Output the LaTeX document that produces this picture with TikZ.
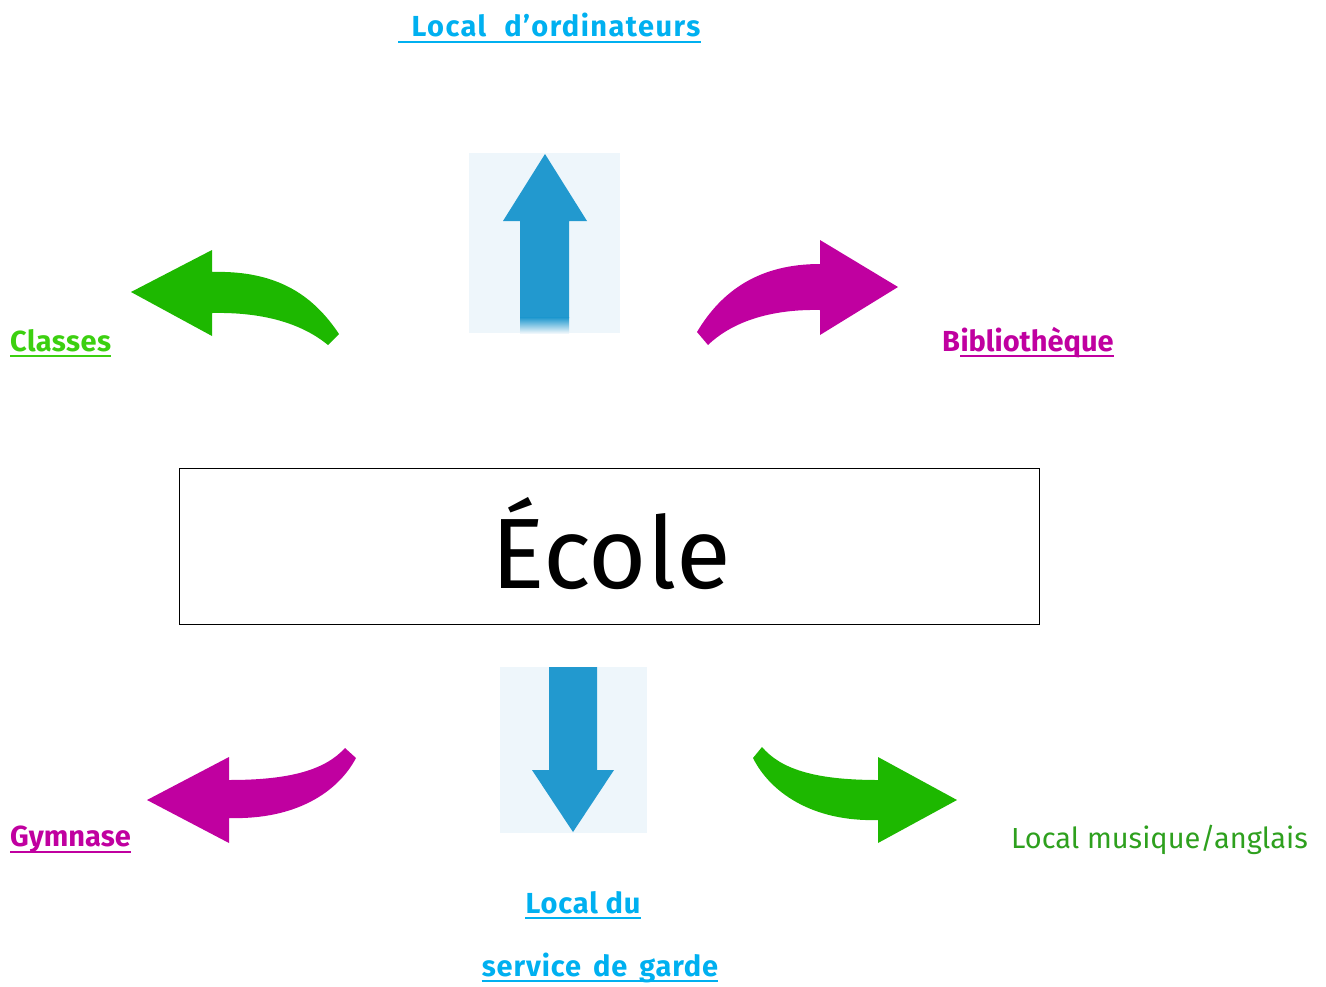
\documentclass[tikz,border=0pt]{standalone}
\usepackage{fontspec}
\setmainfont{Fira Sans}
\usetikzlibrary{calc}
\definecolor{agreen}{HTML}{1DB800}
\definecolor{tgreen}{HTML}{3CD010}
\definecolor{dgreen}{HTML}{2EA01E}
\definecolor{mag}{HTML}{C000A0}
\definecolor{ablue}{HTML}{2299CF}
\definecolor{tblue}{HTML}{00B0F0}
\definecolor{bgblue}{HTML}{EEF6FB}
\begin{document}
\begin{tikzpicture}[x=1pt,y=-1pt,
  lbl/.style={inner sep=0pt, font=\bfseries\fontsize{29}{34}\selectfont},
  uline/.style={line width=2.6pt}]
\useasboundingbox (0,0) rectangle (1326,986);
% central box
\node[draw=black, line width=0.8pt, minimum width=860pt, minimum height=156pt, inner sep=0pt] (ecole) at (609,546) {};
\node[inner sep=0pt, anchor=base, font=\fontsize{100}{110}\selectfont] (ecoletxt) at (611,588) {École};
% up arrow
\fill[bgblue] (469,153) rectangle (620,333);
\fill[ablue] (545,154) -- (587,221) -- (569,221) -- (569,318) -- (520,318) -- (520,221) -- (503,221) -- cycle;
\shade[top color=ablue, bottom color=bgblue] (520,317.5) rectangle (569,333);
% down arrow
\fill[bgblue] (500,667) rectangle (647,833);
\fill[ablue] (549,667) -- (597,667) -- (597,770) -- (614,770) -- (573,832) -- (532,770) -- (549,770) -- cycle;
% Classes arrow (green, top-left)
\fill[agreen] (131,292) -- (212,250) -- (212,272) .. controls (280,270) and (315,298) .. (339,334)
  -- (328,345) .. controls (300,322) and (260,312) .. (212,313) -- (212,336) -- cycle;
% Bibliotheque arrow (magenta, top-right)
\fill[mag] (898,287) -- (820,240) -- (820,264) .. controls (760,264) and (722,290) .. (697,332)
  -- (708,345) .. controls (732,322) and (770,309) .. (820,310) -- (820,335) -- cycle;
% Gymnase arrow (magenta, bottom-left)
\fill[mag] (147,800) -- (229,757) -- (229,780) .. controls (290,780) and (325,770) .. (345,748)
  -- (356,758) .. controls (338,792) and (296,820) .. (229,818) -- (229,843) -- cycle;
% Local musique arrow (green, bottom-right)
\fill[agreen] (957,800) -- (878,757) -- (878,780) .. controls (812,780) and (780,768) .. (762,747)
  -- (753,758) .. controls (770,792) and (812,822) .. (878,820) -- (878,843) -- cycle;
% labels
\node[lbl, tblue, anchor=base] (ordi) at (549.5,36) {\addfontfeatures{LetterSpace=5}\spaceskip=18pt\hspace*{13pt}Local d’ordinateurs};
\draw[uline, tblue] ($(ordi.base west)+(0,6)$) -- ($(ordi.base east)+(0,6)$);
\node[lbl, tgreen, anchor=base west] (classes) at (10,351) {\addfontfeatures{LetterSpace=1.5}Classes};
\draw[uline, tgreen] ($(classes.base west)+(0,5)$) -- ($(classes.base east)+(0,5)$);
\node[lbl, mag, anchor=base west] (biblioB) at (942,351) {B};
\node[lbl, mag, anchor=base west] (biblio) at (biblioB.base east) {ibliothèque};
\draw[uline, mag] ($(biblio.base west)+(0,5)$) -- ($(biblio.base east)+(0,5)$);
\node[lbl, mag, anchor=base west] (gym) at (10,846) {Gymnase};
\draw[uline, mag] ($(gym.base west)+(0,6)$) -- ($(gym.base east)+(0,6)$);
\node[inner sep=0pt, dgreen, anchor=base east, font=\fontsize{29}{34}\selectfont] (musique) at (1308,848) {Local musique/anglais};
\node[lbl, tblue, anchor=base] (garde1) at (583,913) {\addfontfeatures{LetterSpace=3}Local du};
\draw[uline, tblue] ($(garde1.base west)+(0,5)$) -- ($(garde1.base east)+(0,5)$);
\node[lbl, tblue, anchor=base] (garde2) at (600,976) {\addfontfeatures{LetterSpace=3}\spaceskip=12pt service de garde};
\draw[uline, tblue] ($(garde2.base west)+(0,5)$) -- ($(garde2.base east)+(0,5)$);
\end{tikzpicture}
\end{document}
